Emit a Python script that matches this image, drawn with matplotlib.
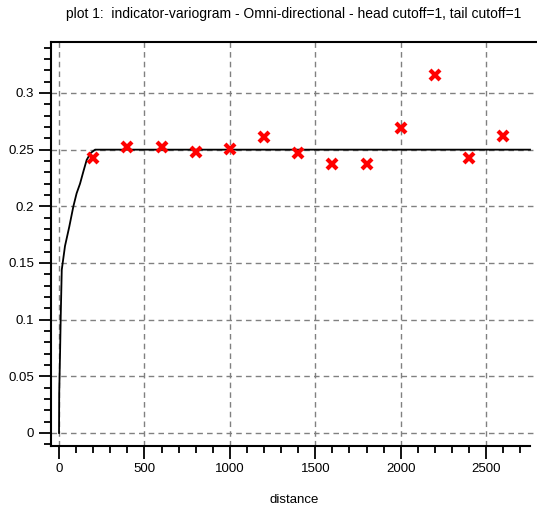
import matplotlib
matplotlib.use("Agg")
import matplotlib.pyplot as plt
from matplotlib.ticker import MultipleLocator

# experimental indicator variogram (lag distance, gamma)
lag = [200, 400, 600, 800, 1000, 1200, 1400, 1600, 1800, 2000, 2200, 2400, 2600]
gamma = [0.243, 0.252, 0.252, 0.248, 0.251, 0.261, 0.247, 0.237, 0.237,
         0.269, 0.316, 0.243, 0.262]

# fitted model
model_h = [0, 1, 6, 10, 16, 35, 60, 84, 103, 123, 143, 162, 185, 211, 2757]
model_g = [0.0, 0.035, 0.07, 0.103, 0.144, 0.165, 0.182, 0.200, 0.2115,
           0.220, 0.231, 0.241, 0.247, 0.25, 0.25]

plt.rcParams["font.family"] = ["Liberation Sans", "DejaVu Sans"]

fig = plt.figure(figsize=(5.37, 5.18), dpi=100)
ax = fig.add_axes([51 / 537, 72 / 518, 486 / 537, 404 / 518])

ax.plot(model_h, model_g, color="black", lw=1.3, zorder=3)
ax.plot(lag, gamma, "x", color="#ff0000", ms=7, mew=3, zorder=4)

ax.set_xlim(-47, 2798)
ax.set_ylim(-0.0115, 0.345)

ax.xaxis.set_major_locator(MultipleLocator(500))
ax.xaxis.set_minor_locator(MultipleLocator(100))
ax.yaxis.set_major_locator(MultipleLocator(0.05))
ax.yaxis.set_minor_locator(MultipleLocator(0.01))
ax.set_yticks([0, 0.05, 0.1, 0.15, 0.2, 0.25, 0.3])
ax.set_yticklabels(["0", "0.05", "0.1", "0.15", "0.2", "0.25", "0.3"])
ax.set_xticks([0, 500, 1000, 1500, 2000, 2500])

ax.grid(True, which="major", color="#808080", linestyle=(0, (4, 3)), lw=1)
ax.tick_params(which="major", length=9, width=1.3, labelsize=9.5, pad=3)
ax.tick_params(which="minor", length=5, width=1.3)

for s in ["left", "bottom", "top"]:
    ax.spines[s].set_linewidth(1.5)
ax.spines["right"].set_visible(False)
ax.spines["bottom"].set_bounds(-47, 2757)

ax.set_xlabel("distance", fontsize=9.5, labelpad=14)
ax.set_title("plot 1:  indicator-variogram - Omni-directional - head cutoff=1, tail cutoff=1",
             fontsize=10, pad=17)

fig.savefig("out.png", dpi=100)
